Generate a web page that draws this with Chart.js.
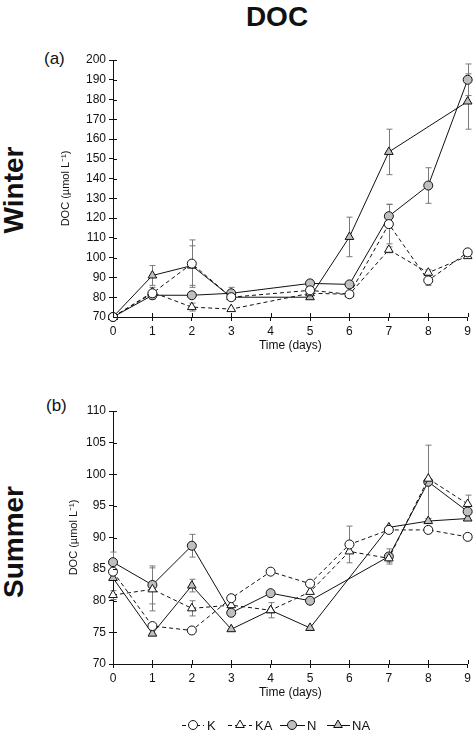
<!DOCTYPE html>
<html>
<head>
<meta charset="utf-8">
<script src="https://cdn.jsdelivr.net/npm/chart.js@4.4.0/dist/chart.umd.min.js"></script>
<style>
body{margin:0;background:#fff;width:474px;height:730px;position:relative;overflow:hidden;font-family:"Liberation Sans",Arial,sans-serif;color:#111}
.lbl{position:absolute;white-space:nowrap;line-height:1}
.rot{transform:translate(-50%,-50%) rotate(-90deg);font-weight:bold;font-size:28px}
canvas{position:absolute}
</style>
</head>
<body>
<div class="lbl" style="left:277px;top:17px;transform:translate(-50%,-50%);font-weight:bold;font-size:28px">DOC</div>
<div class="lbl" style="left:44px;top:50px;font-size:17px">(a)</div>
<div class="lbl" style="left:46px;top:397px;font-size:17px">(b)</div>
<div class="lbl rot" style="left:14px;top:190px">Winter</div>
<div class="lbl rot" style="left:14px;top:542px">Summer</div>
<canvas id="winter" width="424" height="316" style="left:50px;top:40px"></canvas>
<canvas id="summer" width="424" height="344" style="left:50px;top:391px"></canvas>
<script>
let days = [0, 1, 2, 3, 4, 5, 6, 7, 8, 9];
let names = ['K', 'KA', 'N', 'NA'];

// winter (a)
let K_w  = [70, 82, 97, 80, null, 83.5, 81.5, 117, 88.5, 102.7];
let KA_w = [70, 82.5, 75, 74, null, 82, 81.5, 104, 92.4, 100.8];
let N_w  = [70, 81, 81, 82, null, 87, 86.5, 121, 136.5, 190];
let NA_w = [70, 91, 96, 80, null, 80, 110.5, 153.5, null, 179];
let K_w_err  = [null, 3, 12, null, null, null, null, 10, 2.5, 1];
let KA_w_err = [null, 1, 2, null, null, null, null, 1.5, 1.5, null];
let N_w_err  = [null, null, null, 3, null, null, null, 6, 9, 8];
let NA_w_err = [null, 5, 10, null, null, null, 10, 11.5, null, 14];
let ticks_w = {min: 70, max: 200, step: 10};

// summer (b)
let K_s  = [84.6, 76, 75.3, 80.4, 84.6, 82.7, 88.9, 91.2, 91.2, 90.1];
let KA_s = [80.9, 81.8, 78.8, 79.3, 78.5, 81.4, 87.8, 86.7, 99.3, 95.3];
let N_s  = [86.1, 82.5, 88.7, 78.1, 81.2, 80.0, null, 87.0, 98.8, 94.1];
let NA_s = [83.6, 74.8, 82.4, 75.5, 78.5, 75.7, null, 91.6, 92.6, 93.0];
let K_s_err  = [0.5, null, null, null, null, null, 2.9, null, 0.5, 0.5];
let KA_s_err = [0.7, 3.4, 1.2, null, 1.2, null, null, 0.6, null, 1.4];
let N_s_err  = [1.6, 3, 1.8, null, null, null, null, 1.2, 5.8, null];
let NA_s_err = [null, null, 1, null, null, null, null, null, null, null];
let ticks_s = {min: 70, max: 110, step: 5};

let GRAY = '#bfbfbf';
let FONT = '"Liberation Sans", Arial, sans-serif';

let styles = [
    {pointStyle: 'circle', fill: '#fff', dash: [4, 3], radius: 4.5},
    {pointStyle: 'triangle', fill: '#fff', dash: [4, 3], radius: 5},
    {pointStyle: 'circle', fill: GRAY, dash: [], radius: 4.5},
    {pointStyle: 'triangle', fill: GRAY, dash: [], radius: 5}
];

function buildSets(values, errors) {
    return values.map(function (vals, i) {
        let st = styles[i];
        return {
            label: names[i],
            data: days.map((d, j) => ({x: d, y: vals[j]})),
            err: errors[i],
            borderColor: '#111',
            borderWidth: 1,
            borderDash: st.dash,
            pointStyle: st.pointStyle,
            pointRadius: st.radius,
            pointBackgroundColor: st.fill,
            pointBorderColor: '#111',
            pointBorderWidth: 1,
            spanGaps: true,
            clip: false,
            tension: 0
        };
    });
}

let errorBars = {
    id: 'errorBars',
    beforeDatasetsDraw(chart) {
        let ctx = chart.ctx, xs = chart.scales.x, ys = chart.scales.y;
        ctx.save();
        ctx.strokeStyle = '#7a7a7a';
        ctx.lineWidth = 1;
        chart.data.datasets.forEach(ds => {
            if (!ds.err) return;
            ds.err.forEach((e, i) => {
                let v = ds.data[i].y;
                if (e == null || v == null) return;
                let x = Math.round(xs.getPixelForValue(days[i])) + 0.5;
                let top = ys.getPixelForValue(v + e), bot = ys.getPixelForValue(v - e);
                ctx.beginPath();
                ctx.moveTo(x, top); ctx.lineTo(x, bot);
                ctx.moveTo(x - 3, top); ctx.lineTo(x + 3, top);
                ctx.moveTo(x - 3, bot); ctx.lineTo(x + 3, bot);
                ctx.stroke();
            });
        });
        ctx.restore();
    }
};

// inner half of the crossing tick marks
let innerTicks = {
    id: 'innerTicks',
    afterDraw(chart) {
        let ctx = chart.ctx, xs = chart.scales.x, ys = chart.scales.y, a = chart.chartArea;
        ctx.save();
        ctx.strokeStyle = '#111';
        ctx.lineWidth = 1;
        ctx.beginPath();
        ys.ticks.forEach(t => {
            let y = Math.round(ys.getPixelForValue(t.value)) + 0.5;
            ctx.moveTo(a.left, y); ctx.lineTo(a.left + 4, y);
        });
        xs.ticks.forEach(t => {
            let x = Math.round(xs.getPixelForValue(t.value)) + 0.5;
            ctx.moveTo(x, a.bottom); ctx.lineTo(x, a.bottom - 4);
        });
        ctx.stroke();
        ctx.restore();
    }
};

// legend with line + marker samples, page x positions minus canvas offset
let legendPos = [[182, 204, 193, 207], [228, 252, 240, 255], [280, 305, 292, 307], [327, 350, 338, 352]];
let lineLegend = {
    id: 'lineLegend',
    afterDraw(chart) {
        let ctx = chart.ctx;
        let y = 334;
        ctx.save();
        chart.data.datasets.forEach((ds, i) => {
            let p = legendPos[i].map(v => v - 50);
            ctx.strokeStyle = '#111';
            ctx.lineWidth = 1;
            ctx.setLineDash(ds.borderDash);
            ctx.beginPath();
            ctx.moveTo(p[0], y + 0.5); ctx.lineTo(p[1], y + 0.5);
            ctx.stroke();
            ctx.setLineDash([]);
            ctx.fillStyle = ds.pointBackgroundColor;
            Chart.helpers.drawPoint(ctx, {pointStyle: ds.pointStyle, radius: ds.pointRadius, borderWidth: 1, rotation: 0}, p[2], y);
            ctx.fillStyle = '#111';
            ctx.font = '13px ' + FONT;
            ctx.textBaseline = 'middle';
            ctx.fillText(ds.label, p[3], y + 1);
        });
        ctx.restore();
    }
};

function makeChart(id, values, errors, tk, titlePad, bottomPad, extra) {
    return new Chart(document.getElementById(id), {
        type: 'line',
        data: {datasets: buildSets(values, errors)},
        plugins: [errorBars, innerTicks].concat(extra),
        options: {
            responsive: false,
            animation: false,
            layout: {padding: {top: 20, right: 6, left: 0, bottom: bottomPad}},
            plugins: {legend: {display: false}, tooltip: {enabled: false}},
            scales: {
                x: {
                    type: 'linear', min: 0, max: 9,
                    ticks: {stepSize: 1, color: '#111', font: {size: 12, family: FONT}, padding: 3, maxRotation: 0},
                    grid: {drawOnChartArea: false, tickLength: 4, color: '#111'},
                    border: {color: '#111', width: 1},
                    title: {display: true, text: 'Time (days)', color: '#111', font: {size: 12, family: FONT}, padding: {top: 0, bottom: 3}},
                    afterFit: s => { s.height = 39; }
                },
                y: {
                    min: tk.min, max: tk.max,
                    ticks: {stepSize: tk.step, color: '#111', font: {size: 12, family: FONT}, padding: 3},
                    grid: {drawOnChartArea: false, tickLength: 4, color: '#111'},
                    border: {color: '#111', width: 1},
                    title: {display: true, text: 'DOC (µmol L⁻¹)', color: '#111', font: {size: 11, family: FONT}, padding: {top: titlePad, bottom: 0}},
                    afterFit: s => { s.width = 63; }
                }
            }
        }
    });
}

makeChart('winter', [K_w, KA_w, N_w, NA_w], [K_w_err, KA_w_err, N_w_err, NA_w_err], ticks_w, 9, 0, []);
makeChart('summer', [K_s, KA_s, N_s, NA_s], [K_s_err, KA_s_err, N_s_err, NA_s_err], ticks_s, 17, 32, [lineLegend]);
</script>
</body>
</html>
